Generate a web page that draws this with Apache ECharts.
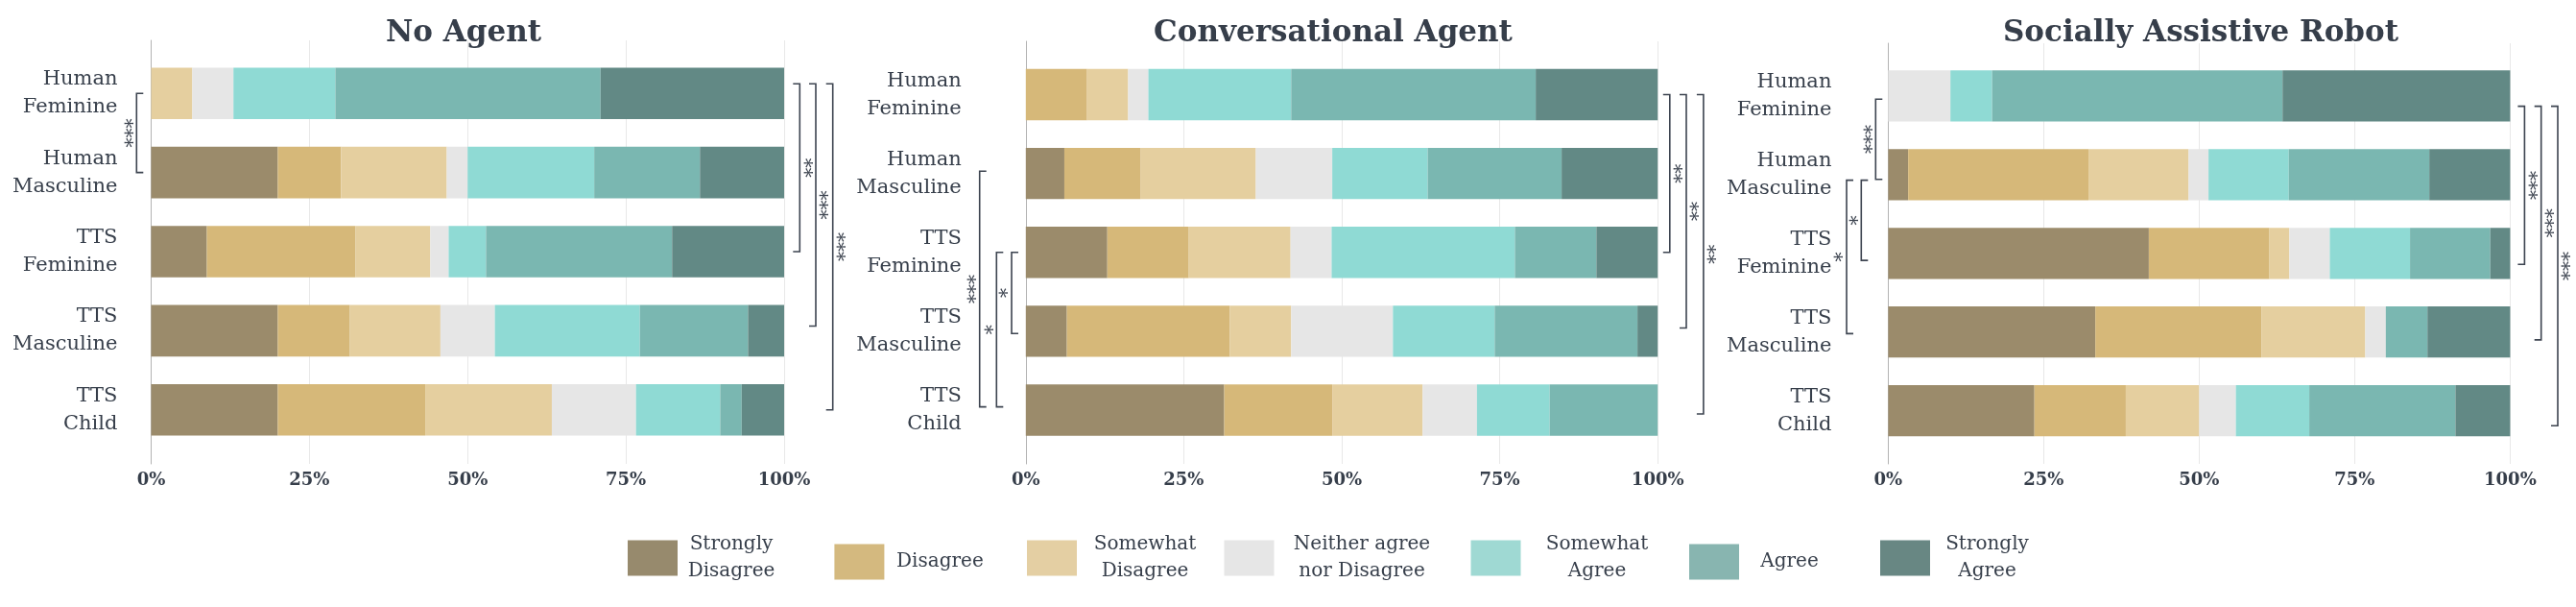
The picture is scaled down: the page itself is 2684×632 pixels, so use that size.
<!DOCTYPE html>
<html><head><meta charset="utf-8">
<script src="https://cdn.jsdelivr.net/npm/echarts@6/dist/echarts.min.js"></script>
<style>html,body{margin:0;padding:0;background:#fff}#c{width:2684px;height:632px}</style>
</head><body><div id="c"></div>
<script>
// ---------- data ----------
const categories = ['Human\nFeminine', 'Human\nMasculine', 'TTS\nFeminine', 'TTS\nMasculine', 'TTS\nChild'];
const levels = ['Strongly Disagree', 'Disagree', 'Somewhat Disagree', 'Neither agree nor Disagree', 'Somewhat Agree', 'Agree', 'Strongly Agree'];
const legendLabels = ['Strongly\nDisagree', 'Disagree', 'Somewhat\nDisagree', 'Neither agree\nnor Disagree', 'Somewhat\nAgree', 'Agree', 'Strongly\nAgree'];
const panelTitles = ['No Agent', 'Conversational Agent', 'Socially Assistive Robot'];
const xTicks = [0, 25, 50, 75, 100];

// percent of responses per category (rows) and level (columns, SD..SA)
const noAgent = [
  [0, 0, 6.5, 6.5, 16.1, 41.9, 29.0],
  [20.0, 10.0, 16.7, 3.3, 20.0, 16.7, 13.3],
  [8.8, 23.5, 11.8, 2.9, 5.9, 29.4, 17.7],
  [20.0, 11.4, 14.3, 8.6, 22.9, 17.1, 5.7],
  [20.0, 23.3, 20.0, 13.3, 13.3, 3.4, 6.7]
];
const conversationalAgent = [
  [0, 9.7, 6.5, 3.2, 22.6, 38.7, 19.3],
  [6.1, 12.1, 18.2, 12.1, 15.1, 21.2, 15.2],
  [12.9, 12.9, 16.1, 6.5, 29.0, 12.9, 9.7],
  [6.5, 25.8, 9.7, 16.1, 16.1, 22.6, 3.2],
  [31.4, 17.1, 14.3, 8.6, 11.5, 17.1, 0]
];
const sociallyAssistiveRobot = [
  [0, 0, 0, 10.0, 6.7, 46.7, 36.6],
  [3.2, 29.0, 16.1, 3.2, 12.9, 22.6, 13.0],
  [41.9, 19.4, 3.2, 6.5, 12.9, 12.9, 3.2],
  [33.3, 26.7, 16.7, 3.3, 0, 6.7, 13.3],
  [23.5, 14.7, 11.8, 5.9, 11.8, 23.5, 8.8]
];

// significance brackets: [from category position, to category position, label]
const noAgentLeftSig = [[0, 1, '***']];
const noAgentRightSig = [[-0.12, 2, '**'], [-0.12, 2.94, '***'], [-0.12, 4, '***']];
const convLeftSig = [[0.97, 3.96, '***'], [2, 3.96, '*'], [2, 3.03, '*']];
const convRightSig = [[0, 2, '**'], [0, 2.96, '**'], [0, 4.05, '**']];
const sarLeftSig = [[0.04, 1.06, '***'], [1.07, 3.02, '*'], [1.07, 2.09, '*']];
const sarRightSig = [[0.13, 2.14, '***'], [0.13, 3.1, '***'], [0.13, 4.19, '***']];

// ---------- styling / layout ----------
const barColors = ['#9b8b6b', '#d6b879', '#e5cf9f', '#e6e6e6', '#8fdad4', '#7ab7b1', '#628985'];
const legendColors = ['#978a6d', '#d4b97f', '#e4cfa3', '#e6e6e6', '#9fd9d3', '#88b5b0', '#688783'];
const TXT = '#363e4a';
const FONT = 'DejaVu Serif';
const panels = [
  { data: noAgent, x0: 157.5, x1: 817, axisTop: 42, barTop: 56, barH: 412, labelMargin: 35, titleX: 483,
    leftSig: noAgentLeftSig, leftX: [-15.2], rightSig: noAgentRightSig, rightX: [16.3, 33, 50.7] },
  { data: conversationalAgent, x0: 1068.8, x1: 1727.2, axisTop: 43, barTop: 57.5, barH: 410.5, labelMargin: 67, titleX: 1389,
    leftSig: convLeftSig, leftX: [-48.1, -30.5, -14.8], rightSig: convRightSig, rightX: [12.6, 29.8, 47.7] },
  { data: sociallyAssistiveRobot, x0: 1967.4, x1: 2615.4, axisTop: 45, barTop: 59, barH: 409.6, labelMargin: 59, titleX: 2293,
    leftSig: sarLeftSig, leftX: [-13.1, -43.4, -28.1], rightSig: sarRightSig, rightX: [15, 32.3, 49.6] }
];
const axisBottom = 483;

const grid = [], xAxis = [], yAxis = [], series = [], title = [];
panels.forEach((p, i) => {
  const w = p.x1 - p.x0;
  grid.push({ left: p.x0, width: w, top: p.axisTop, height: axisBottom - p.axisTop, outerBoundsMode: 'none', containLabel: false });
  grid.push({ left: p.x0, width: w, top: p.barTop, height: p.barH, outerBoundsMode: 'none', containLabel: false });
  xAxis.push({
    type: 'value', gridIndex: 2 * i, min: xTicks[0], max: xTicks[xTicks.length - 1], interval: xTicks[1] - xTicks[0],
    axisLine: { show: false }, axisTick: { show: false },
    splitLine: { show: true, lineStyle: { color: '#e8e8e8', width: 1 } },
    axisLabel: { formatter: '{value}%', margin: 8, color: TXT, fontFamily: FONT, fontSize: 18, fontWeight: 'bold' }
  });
  xAxis.push({ type: 'value', gridIndex: 2 * i + 1, min: 0, max: 100, show: false });
  yAxis.push({
    type: 'category', gridIndex: 2 * i, data: categories, inverse: true,
    axisLine: { show: true, lineStyle: { color: '#b3b3b3', width: 1 } },
    axisTick: { show: false }, axisLabel: { show: false }, splitLine: { show: false }
  });
  yAxis.push({
    type: 'category', gridIndex: 2 * i + 1, data: categories, inverse: true,
    axisLine: { show: false }, axisTick: { show: false }, splitLine: { show: false },
    axisLabel: { margin: p.labelMargin, color: TXT, fontFamily: FONT, fontSize: 21, lineHeight: 29, align: 'right' }
  });
  levels.forEach((lv, k) => {
    series.push({
      type: 'bar', name: lv, stack: 'panel' + i, xAxisIndex: 2 * i + 1, yAxisIndex: 2 * i + 1,
      barWidth: '65%', data: p.data.map(r => r[k]),
      itemStyle: { color: barColors[k] }, emphasis: { disabled: true }
    });
  });
  title.push({
    text: panelTitles[i], left: p.titleX, top: 35, textAlign: 'center', textVerticalAlign: 'middle', padding: 0,
    textStyle: { fontFamily: FONT, fontSize: 31, fontWeight: 'bold', color: TXT }
  });
});

// legend: one component per entry so each sits where the reference puts it
const legendLeft = [654, 869.4, 1070, 1275.5, 1532.5, 1760, 1959];
const legendTextW = [102, 106, 132, 173, 149, 95, 109];
const legend = levels.map((name, i) => {
  const lines = legendLabels[i].split('\n');
  const h = Math.max(37, lines.length * 28);
  return {
    data: [{ name, itemStyle: { color: legendColors[i] } }],
    left: legendLeft[i], top: 585 - h / 2, padding: 0, itemGap: 0,
    itemWidth: 52, itemHeight: 37, icon: 'rect',
    formatter: () => lines.map(l => '{t|' + l + '}').join('\n'),
    textStyle: { color: TXT, fontFamily: FONT, fontSize: 20,
      rich: { t: { width: legendTextW[i], align: 'center', color: TXT, fontFamily: FONT, fontSize: 20, lineHeight: 28 } } }
  };
});

const chart = echarts.init(document.getElementById('c'), null, { renderer: 'canvas' });
chart.setOption({
  animation: false, backgroundColor: '#fff',
  title, grid, xAxis, yAxis, series, legend
});

// significance brackets, placed through the bar axes
function drawBrackets() {
  const g = [];
  const STROKE = '#3d4450';
  panels.forEach((p, i) => {
    const ax = 2 * i + 1;
    const y0 = chart.convertToPixel({ yAxisIndex: ax }, categories[0]);
    const y4 = chart.convertToPixel({ yAxisIndex: ax }, categories[4]);
    const yOf = v => y0 + v * (y4 - y0) / 4;
    const xl = chart.convertToPixel({ xAxisIndex: ax }, 0);
    const xr = chart.convertToPixel({ xAxisIndex: ax }, 100);
    const add = (sig, offs, side) => sig.forEach((s, j) => {
      const x = side === 'left' ? xl + offs[j] : xr + offs[j];
      const t = side === 'left' ? 7 : -7;
      const ya = yOf(s[0]), yb = yOf(s[1]);
      g.push({ type: 'polyline', silent: true, z: 10,
        shape: { points: [[x + t, ya], [x, ya], [x, yb], [x + t, yb]] },
        style: { stroke: STROKE, lineWidth: 1.6, fill: null } });
      const cx = side === 'left' ? x - 9 : x + 8;
      const cy = (ya + yb) / 2;
      g.push({ type: 'text', silent: true, z: 10, x: cx - 4.5, y: cy, rotation: -Math.PI / 2,
        style: { text: s[2], fontFamily: FONT, fontSize: 20, fill: STROKE, align: 'center', verticalAlign: 'middle' } });
    });
    add(p.leftSig, p.leftX, 'left');
    add(p.rightSig, p.rightX, 'right');
  });
  chart.setOption({ graphic: g });
}
drawBrackets();
</script></body></html>
